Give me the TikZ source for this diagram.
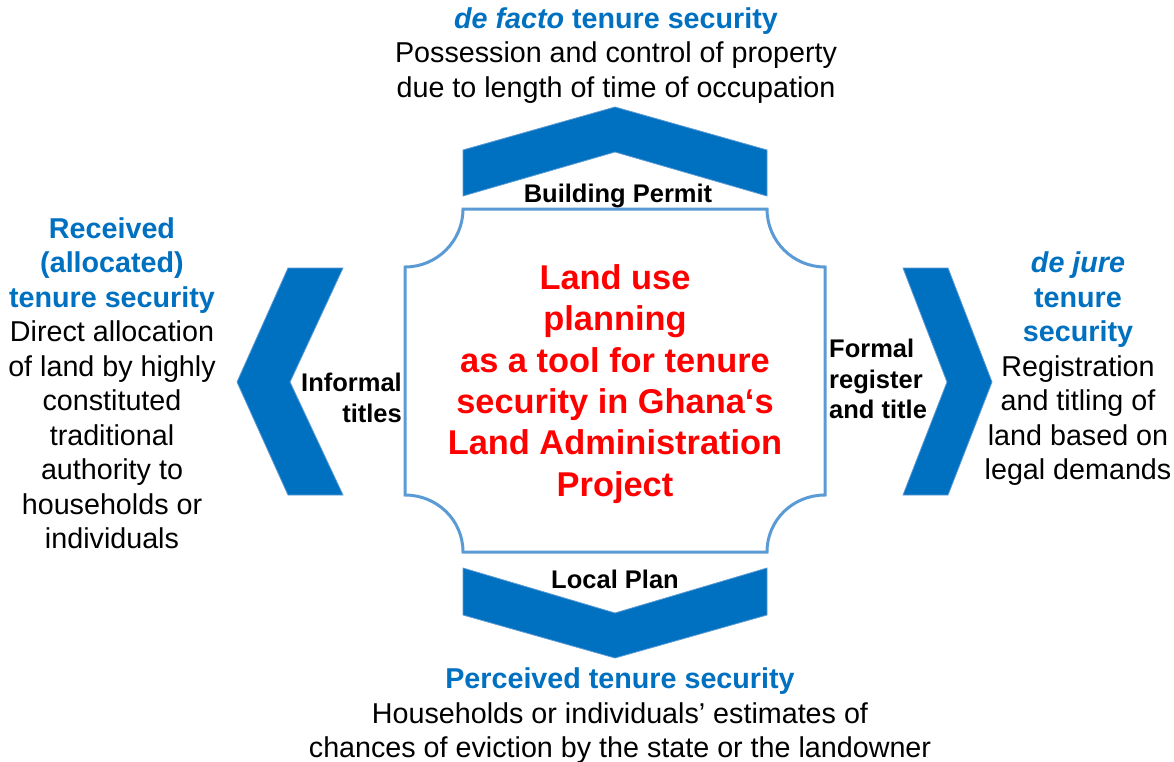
\documentclass[tikz,border=0pt]{standalone}
\usepackage{fontspec}
\setmainfont{Liberation Sans}
\definecolor{chevblue}{HTML}{0070C0}
\definecolor{edgeblue}{HTML}{5B9BD5}
\definecolor{titleblue}{HTML}{0070C0}
\definecolor{plannred}{HTML}{FF0000}
\begin{document}
\begin{tikzpicture}[x=1pt,y=-1pt,
  chevron/.style={fill=chevblue,draw=edgeblue,line width=0.8pt,line join=miter},
  plaque/.style={draw=edgeblue,line width=3pt,fill=white},
  bodytext/.style={inner sep=0pt,align=center,font=\fontsize{28.7}{34.5}\selectfont},
  centretext/.style={inner sep=0pt,align=center,text=plannred,font=\fontsize{34.4}{41.4}\selectfont\bfseries},
  steplabel/.style={inner sep=0pt,font=\fontsize{25.5}{30.6}\selectfont\bfseries}]
\useasboundingbox (0,0) rectangle (1174,762);
\fill[white] (0,0) rectangle (1174,762);

% central plaque with concave corners
\draw[plaque] (463,209) -- (767,209)
  .. controls (767,241) and (793,267) .. (825,267) -- (825,495)
  .. controls (793,495) and (767,520) .. (767,552) -- (463,552)
  .. controls (463,520) and (437,495) .. (405,495) -- (405,267)
  .. controls (437,267) and (463,241) .. (463,209) -- cycle;

% chevrons pointing outwards
\draw[chevron] (463,150) -- (615,107) -- (767,150) -- (767,196) -- (615,152) -- (463,196) -- cycle;
\draw[chevron] (463,568) -- (615,613) -- (767,568) -- (767,615) -- (615,658) -- (463,615) -- cycle;
\draw[chevron] (288,268) -- (343,268) -- (290,382) -- (343,495) -- (288,495) -- (237,382) -- cycle;
\draw[chevron] (903,268) -- (948,268) -- (992,382) -- (948,495) -- (903,495) -- (947,382) -- cycle;

% central statement
\node[centretext] (centre) at (615,384) {Land use\\planning\\as a tool for tenure\\security in Ghana‘s\\Land Administration\\Project};

% labels on the chevrons
\node[steplabel] (permit) at (618,196) {Building Permit};
\node[steplabel] (localplan) at (615,579) {Local Plan};
\node[steplabel,align=right,anchor=east] (informal) at (402,398) {Informal\\titles};
\node[steplabel,align=left,anchor=west] (formal) at (829,379) {Formal\\register\\and title};

% the four kinds of tenure security
\node[bodytext] (defacto) at (616,55.5) {\textcolor{titleblue}{\bfseries\itshape de facto\upshape{} tenure security}\\Possession and control of property\\due to length of time of occupation};
\node[bodytext] (received) at (112,383) {\textcolor{titleblue}{\bfseries Received}\\\textcolor{titleblue}{\bfseries (allocated)}\\\textcolor{titleblue}{\bfseries tenure security}\\Direct allocation\\of land by highly\\constituted\\traditional\\authority to\\households or\\individuals};
\node[bodytext] (dejure) at (1078,369) {\textcolor{titleblue}{\bfseries\itshape de jure}\\\textcolor{titleblue}{\bfseries tenure}\\\textcolor{titleblue}{\bfseries security}\\Registration\\and titling of\\land based on\\legal demands};
\node[bodytext] (perceived) at (620,716) {\textcolor{titleblue}{\bfseries Perceived tenure security}\\Households or individuals’ estimates of\\chances of eviction by the state or the landowner};
\end{tikzpicture}
\end{document}
